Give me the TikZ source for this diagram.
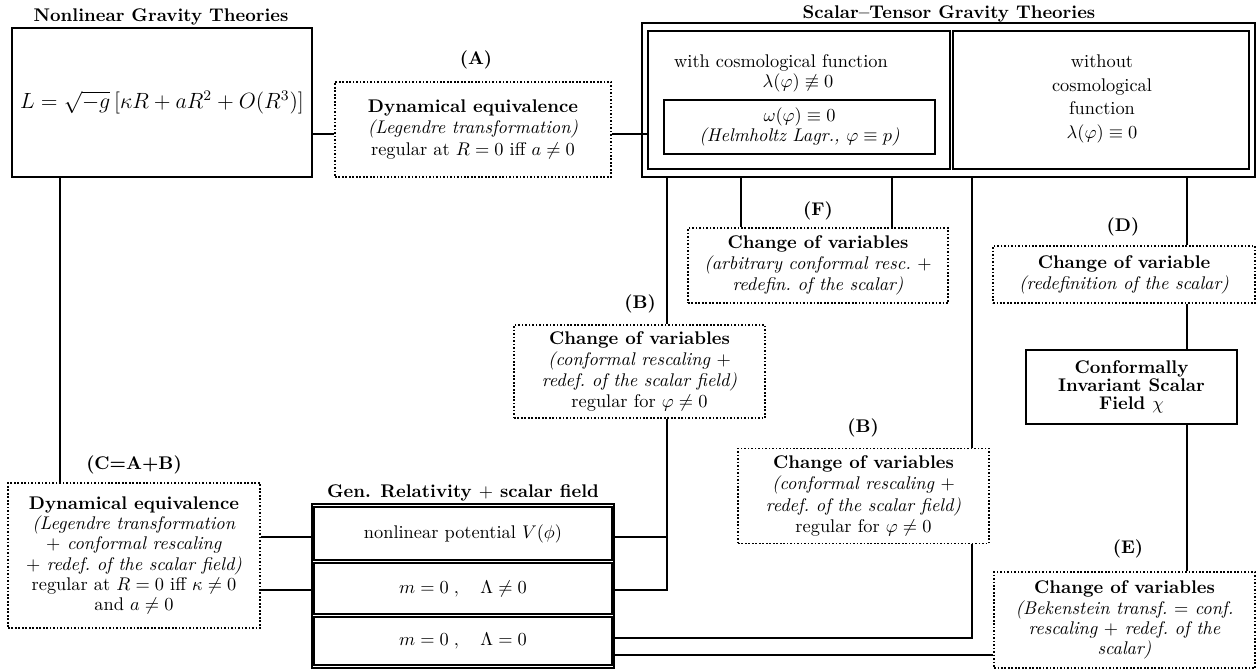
\documentclass[tikz,border=0pt]{standalone}
\usepackage{amsmath,amssymb}
\usetikzlibrary{calc}
\begin{document}
\begin{tikzpicture}[x=0.545pt,y=-0.545pt,
  sz/.style 2 args={minimum width=#1*0.545pt,minimum height=#2*0.545pt,inner sep=0pt},
  solidbox/.style={draw,line width=1.2pt},
  thickbox/.style={draw,line width=1.6pt},
  dotbox/.style={draw,densely dotted,line width=0.9pt},
  tx/.style={align=center,font=\fontsize{10pt}{11.5pt}\selectfont},
  tighttx/.style={align=center,font=\fontsize{10pt}{11pt}\selectfont},
  lbl/.style={font=\bfseries,inner sep=0pt},
  conn/.style={line width=1.1pt},
  thconn/.style={line width=1.6pt},
]
\useasboundingbox (0,0) rectangle (1257,670);

% ---------- Nonlinear gravity ----------
\node[lbl] (NLt) at (161,17) {Nonlinear Gravity Theories};
\node[thickbox,sz={300}{149}] (NL) at (162,102.5) {\large $L=\sqrt{-g}\,[\kappa R+aR^2+O(R^3)]$};

% ---------- (A) ----------
\node[lbl] (Al) at (476,60) {(A)};
\node[dotbox,sz={276}{95},tx] (A) at (473,129.5) {\textbf{Dynamical equivalence}\\\textit{(Legendre transformation)}\\regular at $R=0$ iff $a\neq 0$};

% ---------- Scalar-tensor ----------
\node[lbl] (STt) at (949,14) {Scalar--Tensor Gravity Theories};
\node[thickbox,sz={613}{154}] (ST) at (948.5,100) {};
\node[solidbox,sz={302}{138}] (STL) at (799,100) {};
\node[solidbox,sz={296}{138}] (STR) at (1101,100) {};
\node[tx] (STL1) at (781,63) {with cosmological function};
\node[tx] (STL2) at (798,83) {$\lambda(\varphi)\not\equiv 0$};
\node[solidbox,sz={271}{54},align=center,font=\fontsize{10pt}{11pt}\selectfont] (HL) at (799.5,127) {$\omega(\varphi)\equiv 0$\\\textit{(Helmholtz Lagr., $\varphi\equiv p$)}};
\node[align=center,font=\fontsize{10pt}{13pt}\selectfont] (STRt) at (1102,99) {without\\cosmological\\function\\$\lambda(\varphi)\equiv 0$};

% ---------- (F) ----------
\node[lbl] (Fl) at (818,211) {(F)};
\node[dotbox,sz={260}{75},tx] (F) at (818,265.5) {\textbf{Change of variables}\\\textit{(arbitrary conformal resc.\ $+$}\\\textit{redefin.\ of the scalar)}};

% ---------- (B) first ----------
\node[lbl] (B1l) at (640,304) {(B)};
\node[dotbox,sz={251}{93},tx] (B1) at (639.5,371.5) {\textbf{Change of variables}\\\textit{(conformal rescaling $+$}\\\textit{redef.\ of the scalar field)}\\regular for $\varphi\neq 0$};

% ---------- (B) second ----------
\node[lbl] (B2l) at (863,428) {(B)};
\node[dotbox,sz={251}{95},tx] (B2) at (863.5,496) {\textbf{Change of variables}\\\textit{(conformal rescaling $+$}\\\textit{redef.\ of the scalar field)}\\regular for $\varphi\neq 0$};

% ---------- (D) ----------
\node[lbl] (Dl) at (1123,227) {(D)};
\node[dotbox,sz={262}{57},tx] (D) at (1124,274.5) {\textbf{Change of variable}\\\textit{(redefinition of the scalar)}};

% ---------- Conformally invariant ----------
\node[solidbox,sz={211}{74},align=center,font=\fontsize{10pt}{9.8pt}\selectfont\bfseries] (CI) at (1131.5,387) {Conformally\\Invariant Scalar\\Field $\chi$};

% ---------- (E) ----------
\node[lbl] (El) at (1128,549) {(E)};
\node[dotbox,sz={261}{96},tighttx] (E) at (1124.5,620) {\textbf{Change of variables}\\\textit{(Bekenstein transf.\ $=$ conf.}\\\textit{rescaling $+$ redef.\ of the}\\\textit{scalar)}};

% ---------- (C) ----------
\node[lbl] (Cl) at (134,465) {(C=A+B)};
\node[dotbox,sz={252}{145},tighttx] (C) at (134,555.5) {\textbf{Dynamical equivalence}\\\textit{(Legendre transformation}\\\textit{$+$ conformal rescaling}\\\textit{$+$ redef.\ of the scalar field)}\\regular at $R=0$ iff $\kappa\neq 0$\\and $a\neq 0$};

% ---------- GR + scalar ----------
\node[lbl] (GRt) at (463,493) {Gen. Relativity $+$ scalar field};
\node[thickbox,sz={302}{164}] (GR) at (463,586) {};
\node[thickbox,sz={298}{53},tx] (R1) at (463,533.5) {nonlinear potential $V(\phi)$};
\node[thickbox,sz={298}{51},tx] (R2) at (463,588.5) {$m=0\;,\quad \Lambda\neq 0$};
\node[thickbox,sz={298}{48},tx] (R3) at (463,641) {$m=0\;,\quad \Lambda=0$};

% ---------- helper coordinates ----------
\coordinate (yA) at (0,134);
\coordinate (r1) at (0,537);
\coordinate (r2) at (0,590);
\coordinate (r3a) at (0,638);
\coordinate (r3b) at (0,655);
\coordinate (x60) at (60,0);
\coordinate (x667) at (667,0);
\coordinate (x741) at (741,0);
\coordinate (x892) at (892,0);
\coordinate (x972) at (972,0);
\coordinate (x1187) at (1187,0);

% ---------- connectors ----------
\draw[conn] (NL.east |- yA) -- (A.west |- yA);
\draw[conn] (A.east |- yA) -- (STL.west |- yA);
\draw[thconn] (NL.south -| x60) -- (C.north -| x60);
\draw[conn] (C.east |- r1) -- (GR.west |- r1);
\draw[thconn] (C.east |- r2) -- (GR.west |- r2);
\draw[conn] (ST.south -| x667) -- (B1.north -| x667);
\draw[thconn] (B1.south -| x667) -- (x667 |- r2) -- (GR.east |- r2);
\draw[conn] (x667 |- r1) -- (GR.east |- r1);
\draw[thconn] (ST.south -| x741) -- (F.north -| x741);
\draw[conn] (ST.south -| x892) -- (F.north -| x892);
\draw[thconn] (ST.south -| x972) -- (B2.north -| x972);
\draw[thconn] (B2.south -| x972) -- (x972 |- r3a) -- (GR.east |- r3a);
\draw[conn] (ST.south -| x1187) -- (D.north -| x1187);
\draw[conn] (D.south -| x1187) -- (CI.north -| x1187);
\draw[conn] (CI.south -| x1187) -- (E.north -| x1187);
\draw[conn] (E.west |- r3b) -- (GR.east |- r3b);
\end{tikzpicture}
\end{document}
